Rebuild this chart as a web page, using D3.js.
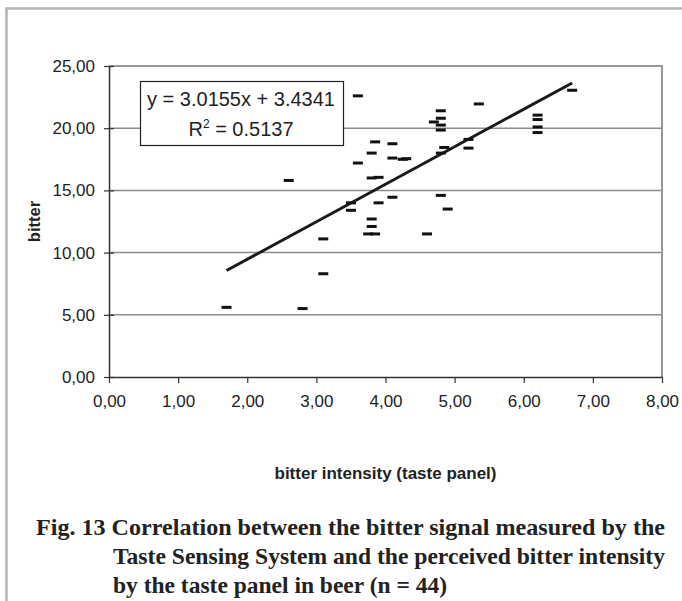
<!DOCTYPE html>
<html lang="en">
<head>
  <meta charset="UTF-8">
  <title>Fig. 13 bitter correlation</title>
  <script src="https://d3js.org/d3.v7.min.js"></script>
  <style>
    body { margin: 0; background: #fff; }
    svg { display: block; }
  </style>
</head>
<body>
  <svg width="682" height="601"></svg>

  <script>
    // taste panel intensity (x) vs. sensor bitter signal (y)
    const panelIntensity = [1.7, 2.8, 3.1, 3.1, 3.5, 3.5, 3.8, 3.8, 3.75, 3.85, 3.9, 4.9, 4.6,
      3.6, 2.6, 3.85, 3.8, 3.6, 4.1, 4.1, 4.25, 4.3, 3.8, 3.9, 4.1, 4.8, 4.7, 4.8, 4.8, 4.8,
      4.85, 4.8, 4.8, 5.35, 5.2, 5.2, 6.2, 6.2, 6.2, 6.2, 6.7];
    const bitterSignal = [5.6, 5.5, 8.3, 11.1, 14.0, 13.4, 12.7, 12.1, 11.5, 11.5, 14.0, 13.5, 11.5,
      22.6, 15.8, 18.9, 18.0, 17.2, 18.75, 17.6, 17.5, 17.55, 16.0, 16.05, 14.45, 21.4, 20.5, 20.8, 20.25, 19.85,
      18.45, 18.0, 14.6, 21.95, 19.1, 18.4, 21.05, 20.7, 20.1, 19.65, 23.05];

    const xTicks = [0, 1, 2, 3, 4, 5, 6, 7, 8];
    const yTicks = [0, 5, 10, 15, 20, 25];

    const slope = 3.0155, intercept = 3.4341, r2 = 0.5137;

    const svg = d3.select("svg");
    const margin = { left: 109, right: 20, top: 66, bottom: 224 };
    const width = 662 - margin.left;
    const height = 377 - margin.top;

    const locale = d3.formatLocale({ decimal: ",", thousands: ".", grouping: [3], currency: ["", ""] });
    const fmt = locale.format(".2f");

    const x = d3.scaleLinear().domain([0, 8]).range([margin.left, margin.left + width]);
    const y = d3.scaleLinear().domain([0, 25]).range([margin.top + height, margin.top]);

    const sans = "'Liberation Sans', Arial, sans-serif";

    // outer frame (left and top only)
    svg.append("path")
        .attr("d", "M6.5,601V8.5H682")
        .attr("fill", "none")
        .attr("stroke", "#b4b4b4")
        .attr("stroke-width", 2.5);

    // gridlines
    svg.append("g")
      .selectAll("line")
      .data(yTicks.filter(d => d > 0 && d < 25))
      .join("line")
        .attr("x1", x(0)).attr("x2", x(8))
        .attr("y1", d => y(d)).attr("y2", d => y(d))
        .attr("stroke", "#8c8c8c")
        .attr("stroke-width", 1.5);

    // plot border top + right
    svg.append("path")
        .attr("d", `M${x(0)},${y(25)}H${x(8)}V${y(0)}`)
        .attr("fill", "none")
        .attr("stroke", "#999")
        .attr("stroke-width", 2);

    const xAxis = svg.append("g")
        .attr("transform", `translate(0,${y(0)})`)
        .call(d3.axisBottom(x).tickValues(xTicks).tickFormat(fmt).tickSizeInner(6).tickSizeOuter(0).tickPadding(12));

    const yAxis = svg.append("g")
        .attr("transform", `translate(${x(0)},0)`)
        .call(d3.axisLeft(y).tickValues(yTicks).tickFormat(fmt).tickSizeInner(5).tickSizeOuter(0).tickPadding(9));
    yAxis.selectAll(".tick line").attr("x2", 5).attr("x1", -5);

    [xAxis, yAxis].forEach(g => {
      g.attr("font-size", 17).attr("font-family", sans);
      g.select(".domain").attr("stroke", "#333").attr("stroke-width", 1.5);
      g.selectAll(".tick line").attr("stroke", "#333").attr("stroke-width", 1.2);
      g.selectAll(".tick text").attr("fill", "#222");
    });

    // trend line
    const xMin = d3.min(panelIntensity), xMax = d3.max(panelIntensity);
    svg.append("line")
        .attr("x1", x(xMin)).attr("y1", y(slope * xMin + intercept))
        .attr("x2", x(xMax)).attr("y2", y(slope * xMax + intercept))
        .attr("stroke", "#1a1a1a")
        .attr("stroke-width", 3);

    // dash markers
    svg.append("g")
      .selectAll("rect")
      .data(panelIntensity.map((d, i) => [d, bitterSignal[i]]))
      .join("rect")
        .attr("x", d => x(d[0]) - 5)
        .attr("y", d => y(d[1]) - 1.5)
        .attr("width", 10)
        .attr("height", 3)
        .attr("fill", "#111");

    // equation box
    const box = svg.append("g");
    box.append("rect")
        .attr("x", 140.5).attr("y", 81.5)
        .attr("width", 203).attr("height", 64)
        .attr("fill", "#fff")
        .attr("stroke", "#222")
        .attr("stroke-width", 1.2);
    const eq = box.append("text")
        .attr("text-anchor", "middle")
        .attr("fill", "#222")
        .attr("font-family", sans)
        .attr("font-size", 20);
    eq.append("tspan").attr("x", 241).attr("y", 106).text(`y = ${slope}x + ${intercept}`);
    const l2 = eq.append("tspan").attr("x", 241).attr("y", 136);
    l2.append("tspan").text("R");
    l2.append("tspan").attr("dy", -8).attr("font-size", 12).text("2");
    l2.append("tspan").attr("dy", 8).text(` = ${r2}`);

    // axis titles
    svg.append("text")
        .attr("x", x(4)).attr("y", 479)
        .attr("text-anchor", "middle")
        .attr("fill", "#222")
        .attr("font-family", sans)
        .attr("font-size", 17)
        .attr("font-weight", "bold")
        .text("bitter intensity (taste panel)");

    svg.append("text")
        .attr("transform", `translate(40,${y(12.5)}) rotate(-90)`)
        .attr("text-anchor", "middle")
        .attr("fill", "#222")
        .attr("font-family", sans)
        .attr("font-size", 16.5)
        .attr("font-weight", "bold")
        .text("bitter");

    // caption
    const captionLines = [
      ["Fig. 13 Correlation between the bitter signal measured by the", 36, 629],
      ["Taste Sensing System and the perceived bitter intensity", 113, 552],
      ["by the taste panel in beer (n = 44)", 113, 334]
    ];
    svg.append("g")
      .selectAll("text")
      .data(captionLines)
      .join("text")
        .attr("x", d => d[1])
        .attr("y", (d, i) => 535 + i * 29)
        .attr("textLength", d => d[2])
        .attr("lengthAdjust", "spacingAndGlyphs")
        .attr("fill", "#222")
        .attr("font-family", "'Liberation Serif', 'Times New Roman', serif")
        .attr("font-size", 23.5)
        .attr("font-weight", "bold")
        .text(d => d[0]);
  </script>
</body>
</html>
